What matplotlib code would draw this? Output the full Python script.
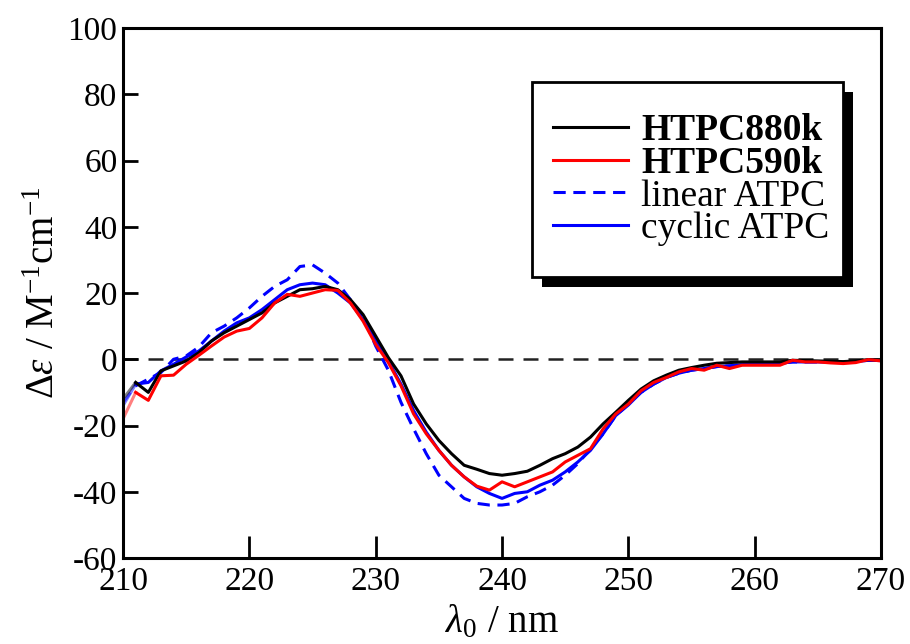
import matplotlib
matplotlib.use("Agg")
import matplotlib.pyplot as plt
from matplotlib.patches import Rectangle

plt.rcParams['font.family'] = ['Liberation Serif', 'DejaVu Serif']
plt.rcParams['mathtext.fontset'] = 'custom'
plt.rcParams['mathtext.rm'] = 'Liberation Serif'
plt.rcParams['mathtext.it'] = 'Liberation Serif:italic'
plt.rcParams['axes.unicode_minus'] = False

# wavelength (nm)
wl = list(range(210, 271))

# HTPC880k
htpc880 = [-12, -7, -10, -3.5, -2, -0.5, 2, 5.5, 8, 10,
           12, 14, 17, 19, 21, 21.3, 22, 21, 18, 13.5,
           7, 0.5, -5, -13.5, -19.5, -24.5, -28.5, -32, -33.2, -34.5,
           -35, -34.5, -33.8, -32, -30, -28.5, -26.5, -23.5, -19.5, -16,
           -12.4, -9, -6.5, -4.8, -3.3, -2.5, -1.8, -1.2, -1, -0.8,
           -0.8, -0.8, -0.8, -0.3, -0.4, -0.5, -0.6, -0.7, -0.5, -0.1,
           -0.2]

# HTPC590k
htpc590 = [-18, -10, -12.4, -5, -4.8, -1.5, 1.2, 4, 6.7, 8.5,
           9.3, 12.5, 17, 19.6, 19, 20, 21, 20.8, 17, 11.5,
           4.5, -1, -8, -16.5, -22.5, -27.5, -32, -35.5, -38.3, -39.5,
           -37, -38.5, -37, -35.5, -34, -31, -29, -27, -21, -16.5,
           -13.5, -9.5, -7, -5.5, -3.8, -2.8, -3.3, -1.8, -2.8, -1.8,
           -1.8, -1.8, -1.8, -0.3, -0.8, -0.8, -1.1, -1.3, -1, -0.1,
           -0.5]

# linear ATPC
linear_atpc = [-13, -8, -6, -4, 0, 1, 3.7, 8, 10, 12.5,
               15.5, 19, 22, 24, 28, 28.5, 26, 23, 18, 13,
               4, -3.3, -13, -21, -28.5, -35, -38.5, -42, -43.5, -44,
               -44, -43.5, -41.5, -40, -38, -35, -31.5, -27, -22.5, -17,
               -13.5, -10, -7.5, -5.5, -4.2, -3.3, -2.8, -2.2, -2, -1.6,
               -1.5, -1.3, -1.2, -0.8, -0.8, -0.8, -0.9, -0.9, -0.7, -0.3,
               -0.4]

# cyclic ATPC
cyclic_atpc = [-14, -7.5, -7, -3.5, -1.5, 0.7, 2.5, 5.5, 8.5, 11,
               12.5, 15, 18, 21, 22.5, 23, 22.5, 20, 17, 12,
               6, -0.5, -7.5, -15.5, -22, -27.5, -32, -35.5, -38.5, -40.5,
               -42, -40.5, -40, -38, -36.5, -34, -31, -27.5, -22.5, -17,
               -13.8, -10, -7.5, -5.5, -4.2, -3.3, -2.8, -2.2, -2, -1.6,
               -1.5, -1.3, -1.2, -0.8, -0.8, -0.8, -0.9, -0.9, -0.7, -0.3,
               -0.4]

fig = plt.figure(figsize=(9.1, 6.44), dpi=100)
ax = fig.add_axes([0.1352, 0.1335, 0.8330, 0.8230])

ax.axhline(0, color='#222222', lw=1.8, dashes=(6, 4), zorder=1)

series = [
    (cyclic_atpc, 'cyclic ATPC', 'blue', '-'),
    (linear_atpc, 'linear ATPC', 'blue', '--'),
    (htpc880, 'HTPC880k', 'black', '-'),
    (htpc590, 'HTPC590k', 'red', '-'),
]
handles = {}
for ys, name, col, ls in series:
    kw = dict(color=col, lw=2.2)
    if ls == '--':
        kw['dashes'] = (4, 2.5)
    # first segment looks faded in the original
    ax.plot(wl[:2], ys[:2], alpha=0.5, **kw)
    h, = ax.plot(wl[1:], ys[1:], label=name, **kw)
    handles[name] = h

ax.set_xlim(210, 270)
ax.set_ylim(-60, 100)
ax.set_xticks(range(210, 271, 10))
ax.set_yticks(range(-60, 101, 20))
ax.tick_params(axis='both', direction='in', width=2, labelsize=24)
ax.tick_params(axis='x', length=16, pad=6)
ax.tick_params(axis='y', length=11, pad=4)
for sp in ax.spines.values():
    sp.set_linewidth(2.2)

ax.set_xlabel(r'$\lambda_0$ / nm', fontsize=28, labelpad=5)
ax.set_ylabel(r'$\Delta\varepsilon$ / M$^{-1}$cm$^{-1}$', fontsize=28, labelpad=3)

order = ['HTPC880k', 'HTPC590k', 'linear ATPC', 'cyclic ATPC']
leg = ax.legend([handles[n] for n in order], order, loc='upper right',
                bbox_to_anchor=(0.959, 0.879), borderaxespad=0,
                fontsize=27, frameon=False, handlelength=2.0,
                handletextpad=0.35, labelspacing=-0.05, borderpad=0.55)
for t in leg.get_texts()[:2]:
    t.set_fontweight('bold')

# box and drop shadow drawn by hand (taller than the legend's own frame)
fig.canvas.draw()
bb = leg.get_window_extent()
inv = ax.transAxes.inverted()
bx0, by0 = bb.x0, bb.y0 - 10
bx1, by1 = bb.x1 - 7, bb.y1 + 10
for dx, fc, ec, z in [(10, 'black', 'none', 4.7), (0, 'white', 'black', 4.8)]:
    (x0, y0) = inv.transform((bx0 + dx, by0 - dx))
    (x1, y1) = inv.transform((bx1 + dx, by1 - dx))
    ax.add_patch(Rectangle((x0, y0), x1 - x0, y1 - y0, transform=ax.transAxes,
                           facecolor=fc, edgecolor=ec, lw=2, zorder=z,
                           clip_on=False))

fig.savefig('out.png', dpi=100)
